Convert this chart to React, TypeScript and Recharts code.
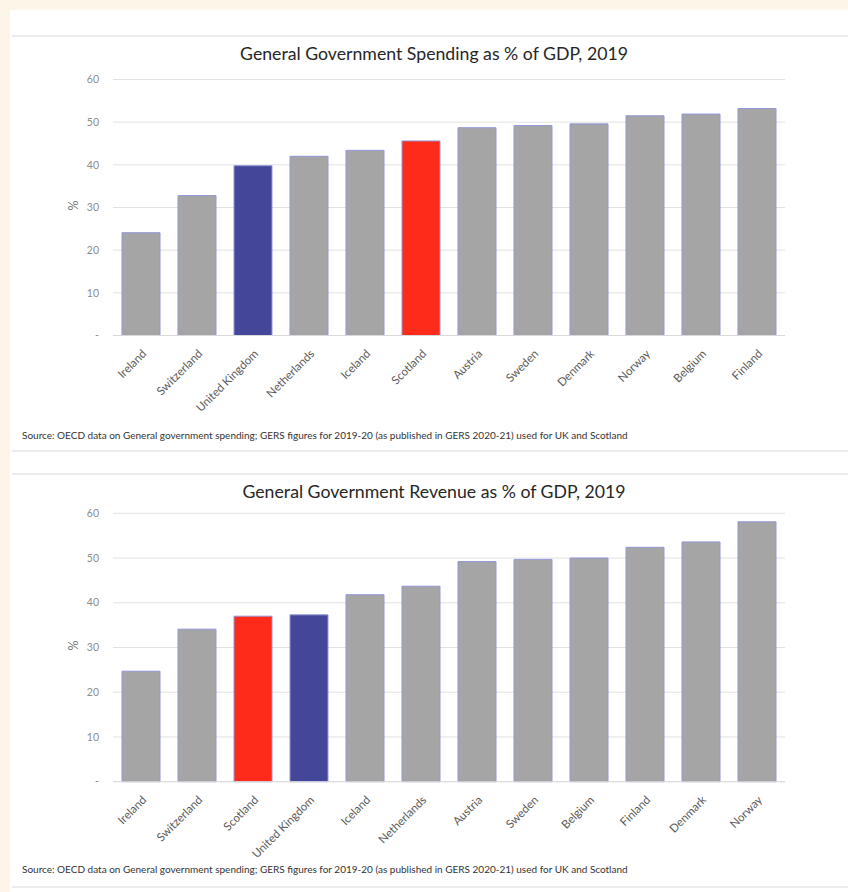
import { BarChart, Bar, XAxis, YAxis, CartesianGrid, Cell } from 'recharts'

const spendCountries = ['Ireland', 'Switzerland', 'United Kingdom', 'Netherlands', 'Iceland', 'Scotland', 'Austria', 'Sweden', 'Denmark', 'Norway', 'Belgium', 'Finland']
const spendValues = [24.1, 32.8, 39.8, 42.0, 43.4, 45.6, 48.7, 49.2, 49.6, 51.5, 51.9, 53.2]

const revenueCountries = ['Ireland', 'Switzerland', 'Scotland', 'United Kingdom', 'Iceland', 'Netherlands', 'Austria', 'Sweden', 'Belgium', 'Finland', 'Denmark', 'Norway']
const revenueValues = [24.7, 34.1, 37.0, 37.3, 41.8, 43.7, 49.2, 49.7, 50.0, 52.4, 53.6, 58.1]

const yTicks = [0, 10, 20, 30, 40, 50, 60]

const SOURCE = 'Source: OECD data on General government spending; GERS figures for 2019-20 (as published in GERS 2020-21) used for UK and Scotland'
const FONT = 'Lato, "Open Sans", sans-serif'

const GREY = '#a5a5a5'
const BLUE = '#44469a'
const RED = '#fe2a1a'

function barColour(name: string) {
  if (name === 'United Kingdom') return BLUE
  if (name === 'Scotland') return RED
  return GREY
}

const AngledTick = (props: any) => {
  const { x, y, payload } = props
  return (
    <text
      x={0}
      y={0}
      textAnchor="end"
      fontSize={11.5}
      fontFamily={FONT}
      fill="#595959"
      transform={`translate(${x + 6},${y + 11}) rotate(-45)`}
    >
      {payload.value}
    </text>
  )
}

interface PanelProps {
  top: number
  plotTop: number
  plotBottom: number
  countries: string[]
  values: number[]
}

function Panel({ top, plotTop, plotBottom, countries, values }: PanelProps) {
  const data = countries.map((c, i) => ({ country: c, value: values[i] }))
  const height = 440
  return (
    <div style={{ position: 'absolute', left: 0, top, width: 848, height }}>
      <BarChart
        width={848}
        height={height}
        data={data}
        margin={{ top: plotTop, right: 63, left: 0, bottom: 0 }}
        barSize={38}
      >
        <CartesianGrid vertical={false} stroke="#e2e2e2" />
        <XAxis
          dataKey="country"
          interval={0}
          tick={<AngledTick />}
          tickLine={false}
          axisLine={{ stroke: '#d9d9d9' }}
          height={height - plotBottom}
        />
        <YAxis
          type="number"
          domain={[0, 60]}
          ticks={yTicks}
          width={113}
          tickLine={false}
          axisLine={false}
          tickMargin={8}
          tick={{ fontSize: 10.5, fill: '#8c8c8c', fontFamily: FONT }}
          tickFormatter={(v: number) => (v === 0 ? '-' : String(v))}
        />
        <Bar dataKey="value" stroke="#9297d8" strokeWidth={1} isAnimationActive={false}>
          {data.map((d, i) => (
            <Cell key={i} fill={barColour(d.country)} />
          ))}
        </Bar>
      </BarChart>
    </div>
  )
}

const line = (y: number) => (
  <div style={{ position: 'absolute', left: 12, right: 0, top: y, height: 2, background: '#ececec' }} />
)

export default function App() {
  return (
    <div
      style={{
        position: 'absolute',
        left: 0,
        top: 0,
        width: 848,
        height: 892,
        background: '#fdf6e8',
        fontFamily: FONT,
        overflow: 'hidden',
      }}
    >
      <div style={{ position: 'absolute', left: 10, top: 10, right: 0, bottom: 0, background: '#ffffff' }} />
      {line(35)}
      {line(450)}
      {line(473)}
      {line(886)}

      <div style={{ position: 'absolute', left: 134, width: 600, top: 43, textAlign: 'center', fontSize: 17.7, color: '#262626' }}>
        General Government Spending as % of GDP, 2019
      </div>
      <div style={{ position: 'absolute', left: 134, width: 600, top: 481, textAlign: 'center', fontSize: 17.7, color: '#262626' }}>
        General Government Revenue as % of GDP, 2019
      </div>

      <Panel top={0} plotTop={79.5} plotBottom={335.5} countries={spendCountries} values={spendValues} />
      <Panel top={440} plotTop={73.3} plotBottom={341.7} countries={revenueCountries} values={revenueValues} />

      <div style={{ position: 'absolute', left: 65, top: 198, transform: 'rotate(-90deg)', fontSize: 12.5, color: '#6f6f6f', width: 16, textAlign: 'center' }}>%</div>
      <div style={{ position: 'absolute', left: 65, top: 638, transform: 'rotate(-90deg)', fontSize: 12.5, color: '#6f6f6f', width: 16, textAlign: 'center' }}>%</div>

      <div style={{ position: 'absolute', left: 22, top: 429, fontSize: 10, color: '#333333', whiteSpace: 'nowrap' }}>{SOURCE}</div>
      <div style={{ position: 'absolute', left: 22, top: 863, fontSize: 10, color: '#333333', whiteSpace: 'nowrap' }}>{SOURCE}</div>
    </div>
  )
}
